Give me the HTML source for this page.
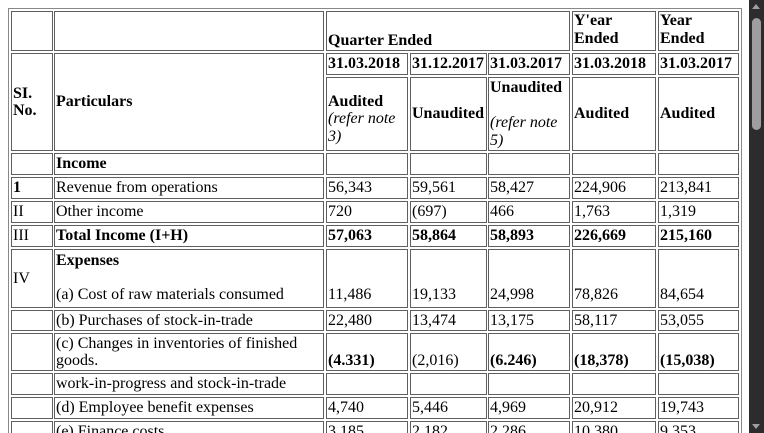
<!DOCTYPE html>
<html><head><meta charset="utf-8"><style>
html,body{margin:0;padding:0;background:#fff;width:764px;height:433px;overflow:hidden;position:relative}
.c{position:absolute;border:1px solid #5f5f5f;box-sizing:border-box;padding:0 1px;font-family:"Liberation Serif",serif;font-size:16px;line-height:17.5px;color:#000;display:flex;align-items:center;white-space:nowrap;overflow:hidden}
.b{font-weight:bold}
.bt{align-items:flex-end;padding-bottom:1px}
.tp{align-items:flex-start;padding-top:1px}
.col{flex-direction:column;justify-content:center;align-items:flex-start}
i{font-style:italic}
#outer{position:absolute;left:8px;top:8px;width:734px;height:440px;border:1px solid #888;box-sizing:border-box}
#sb{position:absolute;left:749px;top:0;width:15px;height:433px;background:#2c2c2c}
#thumb{position:absolute;left:752px;top:18px;width:9px;height:112px;background:#9e9e9e;border-radius:5px}
</style></head><body>
<div id="outer"></div>
<div class="c" style="left:11px;top:11px;width:42px;height:40px"></div>
<div class="c" style="left:54px;top:11px;width:270px;height:40px"></div>
<div class="c b bt" style="left:326px;top:11px;width:244px;height:40px">Quarter Ended</div>
<div class="c b col" style="left:572px;top:11px;width:84px;height:40px;justify-content:flex-start"><span>Y'ear</span><span>Ended</span></div>
<div class="c b col" style="left:658px;top:11px;width:81px;height:40px;justify-content:flex-start"><span>Year</span><span>Ended</span></div>
<div class="c b col" style="left:11px;top:53px;width:42px;height:98px"><span>SI.</span><span>No.</span></div>
<div class="c b" style="left:54px;top:53px;width:270px;height:98px">Particulars</div>
<div class="c b" style="left:326px;top:53px;width:82px;height:22px">31.03.2018</div>
<div class="c b" style="left:410px;top:53px;width:77px;height:22px">31.12.2017</div>
<div class="c b" style="left:488px;top:53px;width:82px;height:22px">31.03.2017</div>
<div class="c b" style="left:572px;top:53px;width:84px;height:22px">31.03.2018</div>
<div class="c b" style="left:658px;top:53px;width:81px;height:22px">31.03.2017</div>
<div class="c col" style="left:326px;top:77px;width:82px;height:74px;padding-top:10px"><b>Audited</b><i>(refer note</i><i>3)</i></div>
<div class="c b" style="left:410px;top:77px;width:77px;height:74px">Unaudited</div>
<div class="c col" style="left:488px;top:77px;width:82px;height:74px"><b>Unaudited</b><span>&nbsp;</span><i>(refer note</i><i>5)</i></div>
<div class="c b" style="left:572px;top:77px;width:84px;height:74px">Audited</div>
<div class="c b" style="left:658px;top:77px;width:81px;height:74px">Audited</div>
<div class="c" style="left:11px;top:153px;width:42px;height:22px"></div>
<div class="c b" style="left:54px;top:153px;width:270px;height:22px">Income</div>
<div class="c" style="left:326px;top:153px;width:82px;height:22px"></div>
<div class="c" style="left:410px;top:153px;width:77px;height:22px"></div>
<div class="c" style="left:488px;top:153px;width:82px;height:22px"></div>
<div class="c" style="left:572px;top:153px;width:84px;height:22px"></div>
<div class="c" style="left:658px;top:153px;width:81px;height:22px"></div>
<div class="c b" style="left:11px;top:177px;width:42px;height:22px">1</div>
<div class="c" style="left:54px;top:177px;width:270px;height:22px">Revenue from operations</div>
<div class="c" style="left:326px;top:177px;width:82px;height:22px">56,343</div>
<div class="c" style="left:410px;top:177px;width:77px;height:22px">59,561</div>
<div class="c" style="left:488px;top:177px;width:82px;height:22px">58,427</div>
<div class="c" style="left:572px;top:177px;width:84px;height:22px">224,906</div>
<div class="c" style="left:658px;top:177px;width:81px;height:22px">213,841</div>
<div class="c" style="left:11px;top:201px;width:42px;height:22px">II</div>
<div class="c" style="left:54px;top:201px;width:270px;height:22px">Other income</div>
<div class="c" style="left:326px;top:201px;width:82px;height:22px">720</div>
<div class="c" style="left:410px;top:201px;width:77px;height:22px">(697)</div>
<div class="c" style="left:488px;top:201px;width:82px;height:22px">466</div>
<div class="c" style="left:572px;top:201px;width:84px;height:22px">1,763</div>
<div class="c" style="left:658px;top:201px;width:81px;height:22px">1,319</div>
<div class="c" style="left:11px;top:225px;width:42px;height:22px">III</div>
<div class="c b" style="left:54px;top:225px;width:270px;height:22px">Total Income (I+H)</div>
<div class="c b" style="left:326px;top:225px;width:82px;height:22px">57,063</div>
<div class="c b" style="left:410px;top:225px;width:77px;height:22px">58,864</div>
<div class="c b" style="left:488px;top:225px;width:82px;height:22px">58,893</div>
<div class="c b" style="left:572px;top:225px;width:84px;height:22px">226,669</div>
<div class="c b" style="left:658px;top:225px;width:81px;height:22px">215,160</div>
<div class="c" style="left:11px;top:249px;width:42px;height:59px">IV</div>
<div class="c col" style="left:54px;top:249px;width:270px;height:59px;justify-content:space-between;padding:2px 1px 4px"><b>Expenses</b><span>(a) Cost of raw materials consumed</span></div>
<div class="c bt" style="left:326px;top:249px;width:82px;height:59px;padding-bottom:4px">11,486</div>
<div class="c bt" style="left:410px;top:249px;width:77px;height:59px;padding-bottom:4px">19,133</div>
<div class="c bt" style="left:488px;top:249px;width:82px;height:59px;padding-bottom:4px">24,998</div>
<div class="c bt" style="left:572px;top:249px;width:84px;height:59px;padding-bottom:4px">78,826</div>
<div class="c bt" style="left:658px;top:249px;width:81px;height:59px;padding-bottom:4px">84,654</div>
<div class="c" style="left:11px;top:310px;width:42px;height:21px"></div>
<div class="c" style="left:54px;top:310px;width:270px;height:21px">(b) Purchases of stock-in-trade</div>
<div class="c" style="left:326px;top:310px;width:82px;height:21px">22,480</div>
<div class="c" style="left:410px;top:310px;width:77px;height:21px">13,474</div>
<div class="c" style="left:488px;top:310px;width:82px;height:21px">13,175</div>
<div class="c" style="left:572px;top:310px;width:84px;height:21px">58,117</div>
<div class="c" style="left:658px;top:310px;width:81px;height:21px">53,055</div>
<div class="c" style="left:11px;top:333px;width:42px;height:38px"></div>
<div class="c col" style="left:54px;top:333px;width:270px;height:38px"><span>(c) Changes in inventories of finished</span><span>goods.</span></div>
<div class="c b bt" style="left:326px;top:333px;width:82px;height:38px">(4.331)</div>
<div class="c bt" style="left:410px;top:333px;width:77px;height:38px">(2,016)</div>
<div class="c b bt" style="left:488px;top:333px;width:82px;height:38px">(6.246)</div>
<div class="c b bt" style="left:572px;top:333px;width:84px;height:38px">(18,378)</div>
<div class="c b bt" style="left:658px;top:333px;width:81px;height:38px">(15,038)</div>
<div class="c" style="left:11px;top:373px;width:42px;height:22px"></div>
<div class="c" style="left:54px;top:373px;width:270px;height:22px">work-in-progress and stock-in-trade</div>
<div class="c" style="left:326px;top:373px;width:82px;height:22px"></div>
<div class="c" style="left:410px;top:373px;width:77px;height:22px"></div>
<div class="c" style="left:488px;top:373px;width:82px;height:22px"></div>
<div class="c" style="left:572px;top:373px;width:84px;height:22px"></div>
<div class="c" style="left:658px;top:373px;width:81px;height:22px"></div>
<div class="c" style="left:11px;top:397px;width:42px;height:22px"></div>
<div class="c" style="left:54px;top:397px;width:270px;height:22px">(d) Employee benefit expenses</div>
<div class="c" style="left:326px;top:397px;width:82px;height:22px">4,740</div>
<div class="c" style="left:410px;top:397px;width:77px;height:22px">5,446</div>
<div class="c" style="left:488px;top:397px;width:82px;height:22px">4,969</div>
<div class="c" style="left:572px;top:397px;width:84px;height:22px">20,912</div>
<div class="c" style="left:658px;top:397px;width:81px;height:22px">19,743</div>
<div class="c tp" style="left:11px;top:421px;width:42px;height:22px"></div>
<div class="c tp" style="left:54px;top:421px;width:270px;height:22px">(e) Finance costs</div>
<div class="c tp" style="left:326px;top:421px;width:82px;height:22px">3,185</div>
<div class="c tp" style="left:410px;top:421px;width:77px;height:22px">2,182</div>
<div class="c tp" style="left:488px;top:421px;width:82px;height:22px">2,286</div>
<div class="c tp" style="left:572px;top:421px;width:84px;height:22px">10,380</div>
<div class="c tp" style="left:658px;top:421px;width:81px;height:22px">9,353</div>
<div id="sb"></div>
<div id="thumb"></div>
<div style="position:absolute;left:752px;top:4px;width:0;height:0;border-left:4px solid transparent;border-right:4px solid transparent;border-bottom:5px solid #9e9e9e"></div>
<div style="position:absolute;left:752px;top:424px;width:0;height:0;border-left:4px solid transparent;border-right:4px solid transparent;border-top:5px solid #9e9e9e"></div>
</body></html>
